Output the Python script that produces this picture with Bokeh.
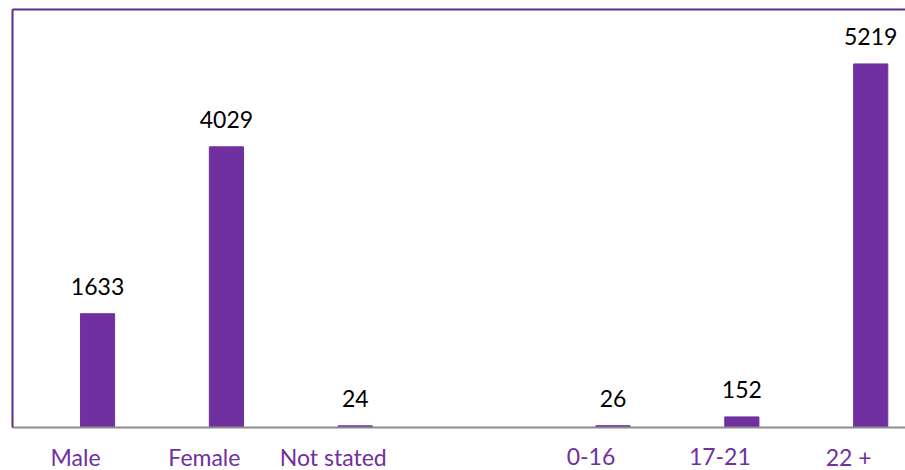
from bokeh.plotting import figure
from bokeh.layouts import column
from bokeh.models import ColumnDataSource, Range1d, FixedTicker, LinearAxis
from bokeh.core.properties import value
from bokeh.embed import file_html
from bokeh.resources import INLINE

categories = ["Male", "Female", "Not stated", "0-16", "17-21", "22 +"]
slots = [0, 1, 2, 4, 5, 6]
counts = [1633, 4029, 24, 26, 152, 5219]

BAR = "#7030A0"
FRAME = "#5B2D8E"
FONT = "Lato"

src = ColumnDataSource(dict(x=slots, top=counts, label=[str(c) for c in counts],
                            cat=categories, mid=[0.5] * len(slots)))

xr = Range1d(-0.66, 6.27)

p = figure(width=905, height=430, output_backend="svg", toolbar_location=None,
           x_range=xr, y_range=Range1d(0, 6000),
           x_axis_location=None, y_axis_location=None,
           min_border_left=12, min_border_top=9, min_border_right=0, min_border_bottom=3)
p.grid.visible = False
p.outline_line_color = None
p.background_fill_color = "white"
p.border_fill_color = "white"

def bare_axis(color, width):
    a = LinearAxis(ticker=FixedTicker(ticks=[]))
    a.axis_line_color = color
    a.axis_line_width = width
    a.major_tick_line_color = None
    a.minor_tick_line_color = None
    a.major_tick_in = 0
    a.major_tick_out = 0
    a.minor_tick_in = 0
    a.minor_tick_out = 0
    a.major_label_text_font_size = "0px"
    a.major_label_standoff = 0
    return a

p.add_layout(bare_axis(FRAME, 2), "left")
p.add_layout(bare_axis(FRAME, 2), "above")
p.add_layout(bare_axis("#8c8c8c", 2), "below")

p.vbar(x="x", top="top", width=0.265, bottom=0, source=src, color=BAR)
p.text(x="x", y="top", text="label", source=src, text_align="center",
       text_baseline="alphabetic", y_offset=-27, text_font=value(FONT),
       text_font_size="23px", text_color="black")

q = figure(width=905, height=40, output_backend="svg", toolbar_location=None,
           x_range=xr, y_range=Range1d(0, 1),
           x_axis_location=None, y_axis_location=None,
           min_border_left=12, min_border_top=0, min_border_right=0, min_border_bottom=0)
q.grid.visible = False
q.outline_line_color = None
q.background_fill_color = "white"
q.border_fill_color = "white"
q.text(x="x", y="mid", text="cat", source=src, x_offset=-22, y_offset=6,
       text_align="center", text_baseline="middle", text_font=value(FONT),
       text_font_size="23px", text_color=BAR)

layout = column(p, q, spacing=0)
open("out.html", "w").write(file_html(layout, INLINE))
